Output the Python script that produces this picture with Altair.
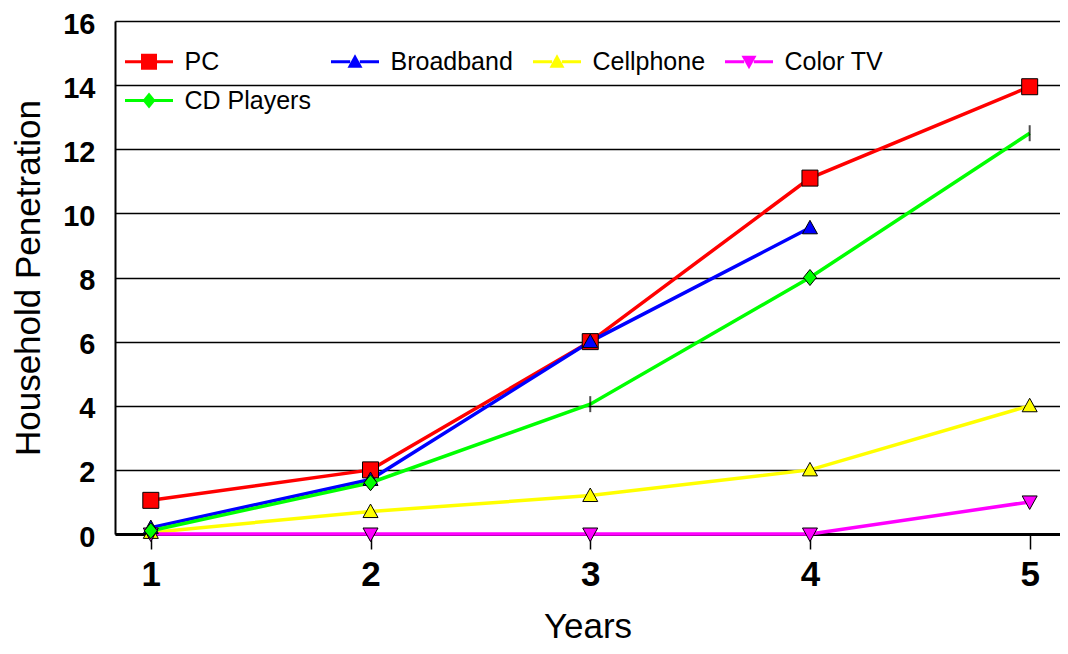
import altair as alt
import pandas as pd

years = [1, 2, 3, 4, 5]
series_names = ["PC", "Broadband", "Cellphone", "Color TV", "CD Players"]
pc = [1.05, 2.0, 6.0, 11.1, 13.95]
broadband = [0.2, 1.7, 6.0, 9.55, None]
cellphone = [0.05, 0.7, 1.2, 2.0, 4.0]
color_tv = [0.0, 0.0, 0.0, 0.0, 1.0]
cd_players = [0.1, 1.6, 4.05, 8.0, 12.5]
# in the original, CD Players points for these years show as a small vertical tick
cd_tick_years = [3, 5]

colors = ["#FF0000", "#0000FF", "#FFFF00", "#FF00FF", "#00FF00"]
y_ticks = [0, 2, 4, 6, 8, 10, 12, 14, 16]

# marker shapes (unit square -1..1)
BOX = "M-1,0M1,0"
marker_paths = [
    BOX + "M-0.32,-0.32H0.32V0.32H-0.32Z",          # square
    BOX + "M0,-0.3L0.3,0.24L-0.3,0.24Z",            # triangle up
    BOX + "M0,-0.3L0.3,0.24L-0.3,0.24Z",            # triangle up
    BOX + "M-0.3,-0.24L0.3,-0.24L0,0.3Z",           # triangle down
    BOX + "M0,-0.32L0.26,0L0,0.32L-0.26,0Z",        # diamond
]
legend_line_path = "M-1,0H-0.2M0.2,0H1"

values = {"PC": pc, "Broadband": broadband, "Cellphone": cellphone,
          "Color TV": color_tv, "CD Players": cd_players}
rows = []
for s in series_names:
    for yr, v in zip(years, values[s]):
        if v is None:
            continue
        marker = "tick" if (s == "CD Players" and yr in cd_tick_years) else "symbol"
        rows.append({"year": yr, "value": v, "series": s, "series_m": s, "marker": marker})
df = pd.DataFrame(rows)

FONT = "Liberation Sans"

x_enc = alt.X(
    "year:Q",
    scale=alt.Scale(domain=[0.837, 5.138], nice=False, zero=False),
    axis=alt.Axis(values=years, format="d", title="Years", grid=False,
                  labelFont=FONT, labelFontSize=35, labelFontWeight="bold", labelColor="black",
                  tickSize=15, tickWidth=1.5, tickColor="black",
                  domainColor="black", domainWidth=3, labelPadding=8,
                  titleFont=FONT, titleFontSize=35, titleFontWeight="normal",
                  titleColor="black", titlePadding=17),
)
y_enc = alt.Y(
    "value:Q",
    scale=alt.Scale(domain=[0, 16], nice=False),
    axis=alt.Axis(values=y_ticks, title="Household Penetration", grid=True,
                  gridColor="black", gridWidth=1.5, gridOpacity=1,
                  ticks=False, labelPadding=20, labelOffset=3,
                  labelFont=FONT, labelFontSize=29, labelFontWeight="bold", labelColor="black",
                  domainColor="black", domainWidth=2,
                  titleFont=FONT, titleFontSize=35, titleFontWeight="normal",
                  titleColor="black", titlePadding=16),
)

common_legend = dict(orient="none", legendX=8.5, legendY=15, columns=4, title=None,
                     direction="horizontal",
                     labelFont=FONT, labelFontSize=25, labelColor="black",
                     columnPadding=13, rowPadding=-9, labelOffset=10, padding=0,
                     labelLimit=400)

base = alt.Chart(df)

line_legend_opts = dict(common_legend)
line_legend_opts["labelColor"] = "transparent"
lines = base.mark_line(strokeWidth=3.5).encode(
    x=x_enc, y=y_enc,
    color=alt.Color("series:N", sort=series_names,
                    scale=alt.Scale(range=colors),
                    legend=alt.Legend(symbolType=legend_line_path, symbolSize=2304,
                                      symbolStrokeWidth=3, **line_legend_opts)),
    detail="series:N",
)

marker_legend_opts = dict(common_legend)
marker_legend_opts["columnPadding"] = 16
marker_legend = alt.Legend(symbolSize=2500, symbolStrokeWidth=1,
                           symbolStrokeColor="black", symbolOpacity=1, **marker_legend_opts)

points = base.transform_filter("datum.marker == 'symbol'").mark_point(
    filled=True, size=2500, stroke="black", strokeWidth=1, opacity=1
).encode(
    x=x_enc, y=y_enc,
    fill=alt.Fill("series_m:N",
                  scale=alt.Scale(domain=series_names, range=colors),
                  legend=marker_legend),
    shape=alt.Shape("series_m:N",
                    scale=alt.Scale(domain=series_names, range=marker_paths),
                    legend=marker_legend),
)

ticks = base.transform_filter("datum.marker == 'tick'").mark_tick(
    orient="vertical", size=16, thickness=2, color="black"
).encode(x=x_enc, y=y_enc)

chart = alt.layer(lines, points, ticks).properties(
    width=945, height=513,
    autosize=alt.AutoSizeParams(type="none"),
    padding={"left": 107, "top": 13, "right": 0, "bottom": 112},
).configure_view(stroke=None).configure(background="white")

chart.save("out.html", embed_options={"renderer": "svg", "actions": False})
